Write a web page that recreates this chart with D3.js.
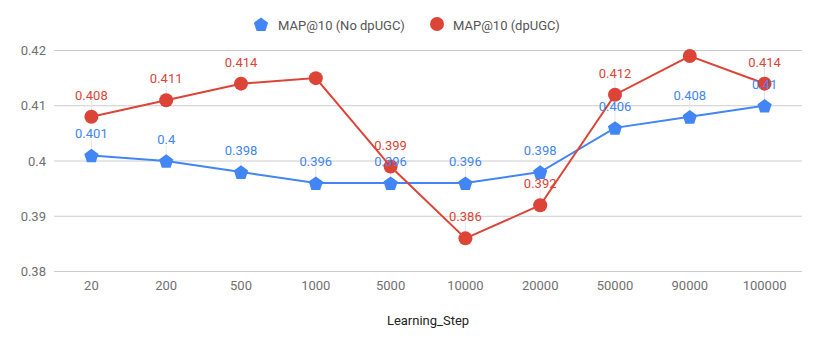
<!DOCTYPE html>
<html><head><meta charset="utf-8">
<script src="https://cdn.jsdelivr.net/npm/d3@7"></script>
<style>body{margin:0;background:#fff}svg{display:block;font-family:Roboto,Arial,sans-serif}</style>
</head><body><svg id="c" width="822" height="343"></svg>
<script>
const categories = ["20","200","500","1000","5000","10000","20000","50000","90000","100000"];
const noDpUGC = [0.401,0.4,0.398,0.396,0.396,0.396,0.398,0.406,0.408,0.41];
const dpUGC   = [0.408,0.411,0.414,0.415,0.399,0.386,0.392,0.412,0.419,0.414];
const noDpLabels = ["0.401","0.4","0.398","0.396","0.396","0.396","0.398","0.406","0.408","0.41"];
const dpLabels   = ["0.408","0.411","0.414",null,"0.399","0.386","0.392","0.412",null,"0.414"];
const yTicks = [0.38,0.39,0.4,0.41,0.42];
const seriesNames = ["MAP@10 (No dpUGC)","MAP@10 (dpUGC)"];
const colors = ["#4285f4","#db4437"];

const svg = d3.select("#c");
const x = d3.scalePoint().domain(categories).range([54,802]).padding(0.5);
const y = d3.scaleLinear().domain([0.38,0.42]).range([271.5,50.5]);

svg.append("g").selectAll("line").data(yTicks).join("line")
  .attr("x1",54).attr("x2",802).attr("y1",d=>y(d)).attr("y2",d=>y(d))
  .attr("stroke","#cccccc").attr("stroke-width",1);
svg.append("g").selectAll("text").data(yTicks).join("text")
  .attr("x",46).attr("y",d=>y(d)+4.5).attr("text-anchor","end")
  .attr("font-size",13).attr("fill","#707070").text(d=>String(d));
svg.append("g").selectAll("text").data(categories).join("text")
  .attr("x",d=>x(d)).attr("y",290).attr("text-anchor","middle")
  .attr("font-size",13).attr("fill","#707070").text(d=>d);
svg.append("text").attr("x",428).attr("y",325).attr("text-anchor","middle")
  .attr("font-size",13).attr("fill","#222").text("Learning_Step");

const series = [
  {vals:noDpUGC, labels:noDpLabels, color:colors[0], shape:"pentagon"},
  {vals:dpUGC, labels:dpLabels, color:colors[1], shape:"circle"}
].map(s=>({...s, pts:s.vals.map((v,i)=>({cat:categories[i], v, label:s.labels[i]}))}));

function pentagon(cx,cy,r){
  const pts=[];
  for(let i=0;i<5;i++){const a=-Math.PI/2+i*2*Math.PI/5;pts.push([cx+r*Math.cos(a),cy+r*Math.sin(a)]);}
  return "M"+pts.map(p=>p.join(",")).join("L")+"Z";
}
const line = d3.line().x(d=>x(d.cat)).y(d=>y(d.v));
const leaders = svg.append("g");
series.forEach(s=>{
  leaders.selectAll(null).data(s.pts.filter(p=>p.label!==null)).join("line")
    .attr("x1",d=>x(d.cat)).attr("x2",d=>x(d.cat))
    .attr("y1",d=>y(d.v)).attr("y2",d=>y(d.v)-16)
    .attr("stroke","#e6e6e6").attr("stroke-width",1);
});
series.forEach(s=>{
  svg.append("path").datum(s.pts).attr("d",line).attr("fill","none")
    .attr("stroke",s.color).attr("stroke-width",2);
  const g = svg.append("g");
  if(s.shape==="circle"){
    g.selectAll("circle").data(s.pts).join("circle")
      .attr("cx",d=>x(d.cat)).attr("cy",d=>y(d.v)).attr("r",7).attr("fill",s.color);
  } else {
    g.selectAll("path").data(s.pts).join("path")
      .attr("d",d=>pentagon(x(d.cat),y(d.v)+0.8,7.5)).attr("fill",s.color);
  }
});
series.forEach(s=>{
  svg.append("g").selectAll("text").data(s.pts.filter(p=>p.label!==null)).join("text")
    .attr("x",d=>x(d.cat)).attr("y",d=>y(d.v)-17)
    .attr("text-anchor","middle").attr("font-size",13).attr("fill",s.color)
    .text(d=>d.label);
});
const leg = svg.append("g");
leg.append("path").attr("d",pentagon(261,25,7.5)).attr("fill",colors[0]);
leg.append("text").attr("x",278).attr("y",29.5).attr("font-size",13).attr("fill","#555").text(seriesNames[0]);
leg.append("circle").attr("cx",437).attr("cy",24).attr("r",7).attr("fill",colors[1]);
leg.append("text").attr("x",453).attr("y",29.5).attr("font-size",13).attr("fill","#555").text(seriesNames[1]);
</script></body></html>
